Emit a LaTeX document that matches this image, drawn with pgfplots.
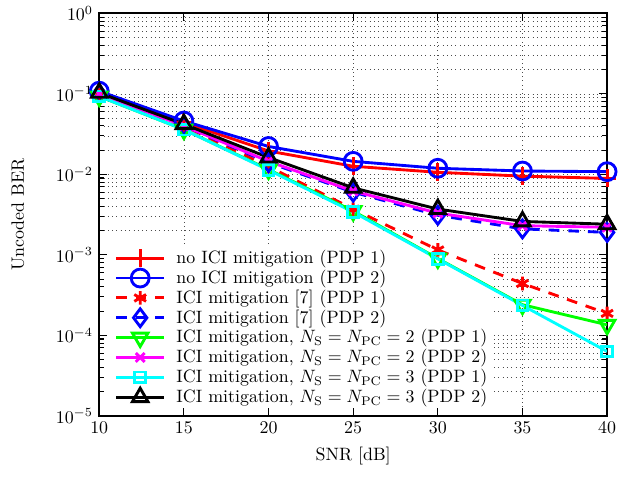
\documentclass[border=0pt]{standalone}
\usepackage{pgfplots}
\pgfplotsset{compat=1.18}
\definecolor{mred}{rgb}{1,0,0}
\definecolor{mblue}{rgb}{0,0,1}
\definecolor{mgreen}{rgb}{0,1,0}
\definecolor{mmag}{rgb}{1,0,1}
\definecolor{mcyan}{rgb}{0,1,1}
\pgfplotsset{layers/mylayers/.define layer set={axis background,axis grid,pre main,axis ticks,axis lines,axis tick labels,main,axis descriptions,axis foreground}{
    grid style={/pgfplots/on layer=axis grid},
    tick style={/pgfplots/on layer=axis ticks},
    axis line style={/pgfplots/on layer=axis lines},
    label style={/pgfplots/on layer=axis descriptions},
    legend style={/pgfplots/on layer=axis descriptions},
    title style={/pgfplots/on layer=axis descriptions},
    ticklabel style={/pgfplots/on layer=axis tick labels},
    axis background@ style={/pgfplots/on layer=axis background},
    3d box foreground style={/pgfplots/on layer=axis foreground},
}}
\begin{document}
\begin{tikzpicture}
\begin{axis}[
  set layers=mylayers,
  scale only axis,
  width=284pt, height=225pt,
  ymode=log,
  xmin=10, xmax=40, ymin=1e-5, ymax=1,
  xtick={10,15,...,40},
  grid=both,
  major grid style={dotted, black!70},
  minor grid style={dotted, black!70},
  axis line style={line width=1.2pt},
  tick style={black, line width=0.6pt},
  tick align=inside,
  xlabel={SNR [dB]},
  ylabel={Uncoded BER},
  every axis x label/.style={at={([yshift=-22.5pt]axis description cs:0.5,0)}, anchor=center},
  every axis y label/.style={at={([xshift=-45.5pt]axis description cs:0,0.5)}, rotate=90, anchor=center},
  legend cell align=left,
  legend style={at={(axis description cs:0.026,0.012)}, anchor=south west, draw=none, fill=none,
    row sep=-1.9pt, inner sep=1pt},
  legend image code/.code={\draw[mark repeat=2,mark phase=2] plot coordinates {(0cm,0cm) (0.475cm,0cm) (0.95cm,0cm)}; \path (1.09cm,0cm);},
  every axis plot/.append style={line width=1.6pt},
]
\addplot[fill=white, draw=none, forget plot, on layer=pre main] coordinates {(10,1e-5) (33.13,1e-5) (33.13,1.33e-3) (10,1.33e-3)} -- cycle;
\addplot[mred, mark=+, mark size=5pt, mark options={solid}] coordinates {(10,0.103) (15,0.044) (20,0.0195) (25,0.0126) (30,0.0106) (35,0.0095) (40,0.0089)};
\addlegendentry{no ICI mitigation (PDP 1)}
\addplot[mblue, mark=o, mark size=5pt, mark options={solid}] coordinates {(10,0.108) (15,0.046) (20,0.0222) (25,0.0145) (30,0.0119) (35,0.011) (40,0.0108)};
\addlegendentry{no ICI mitigation (PDP 2)}
\addplot[mred, dashed, dash pattern=on 6pt off 5pt, mark=asterisk, mark size=3.8pt, mark options={solid}] coordinates {(10,0.1) (15,0.04) (20,0.0125) (25,0.0037) (30,0.00115) (35,0.00044) (40,0.000187)};
\addlegendentry{ICI mitigation [7] (PDP 1)}
\addplot[mblue, dashed, dash pattern=on 6pt off 5pt, mark=diamond, mark size=5pt, mark options={solid}] coordinates {(10,0.1) (15,0.04) (20,0.014) (25,0.006) (30,0.0031) (35,0.0021) (40,0.0019)};
\addlegendentry{ICI mitigation [7] (PDP 2)}
\addplot[mgreen, mark=triangle, mark size=5pt, mark options={solid, rotate=180}] coordinates {(10,0.093) (15,0.036) (20,0.0115) (25,0.0035) (30,0.0009) (35,0.00024) (40,0.000135)};
\addlegendentry{ICI mitigation, $N_{\mathrm{S}}=N_{\mathrm{PC}}=2$ (PDP 1)}
\addplot[mmag, mark=x, mark size=3.5pt, mark options={solid}] coordinates {(10,0.1) (15,0.04) (20,0.0145) (25,0.0062) (30,0.0033) (35,0.0023) (40,0.0022)};
\addlegendentry{ICI mitigation, $N_{\mathrm{S}}=N_{\mathrm{PC}}=2$ (PDP 2)}
\addplot[mcyan, mark=square, mark size=3pt, mark options={solid}] coordinates {(10,0.093) (15,0.036) (20,0.0113) (25,0.0034) (30,0.00089) (35,0.000235) (40,0.000063)};
\addlegendentry{ICI mitigation, $N_{\mathrm{S}}=N_{\mathrm{PC}}=3$ (PDP 1)}
\addplot[black, mark=triangle, mark size=5pt, mark options={solid}] coordinates {(10,0.103) (15,0.042) (20,0.0162) (25,0.0068) (30,0.0037) (35,0.0026) (40,0.0024)};
\addlegendentry{ICI mitigation, $N_{\mathrm{S}}=N_{\mathrm{PC}}=3$ (PDP 2)}
\end{axis}
\path ([xshift=-55.5pt,yshift=-34pt]current axis.south west) rectangle ([xshift=2.5pt,yshift=7.5pt]current axis.north east);
\end{tikzpicture}
\end{document}
